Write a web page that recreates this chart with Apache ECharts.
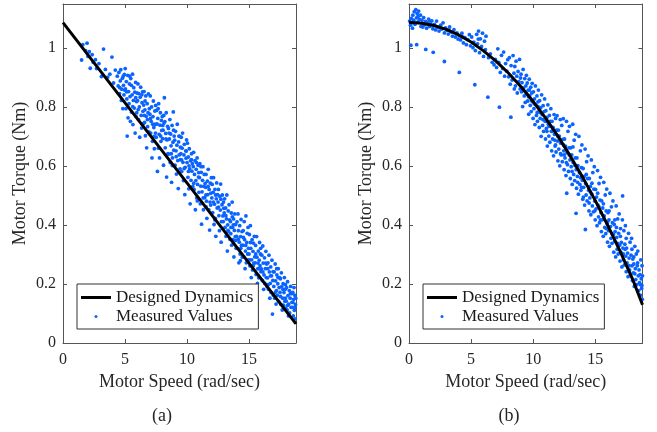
<!DOCTYPE html>
<html>
<head>
<meta charset="utf-8">
<script src="https://cdn.jsdelivr.net/npm/echarts@6/dist/echarts.min.js"></script>
<style>
  html, body { margin: 0; padding: 0; background: #fff; }
  #chart { width: 657px; height: 432px; }
</style>
</head>
<body>
<div id="chart"></div>
<script>
// axis ticks
const speedTicks = [0, 5, 10, 15]
const torqueTicks = [0, 0.2, 0.4, 0.6, 0.8, 1]
const panelLabels = ['(a)', '(b)']

// designed dynamics curves
const designedSpeedA = [0, 18.8]
const designedTorqueA = [1.087, 0.065]
const designedSpeedB = [0, 1, 2, 3, 4, 5, 6, 7, 8, 9, 10, 11, 12, 13, 14, 15, 16, 17, 18, 18.8]
const designedTorqueB = [1.088, 1.085, 1.077, 1.064, 1.045, 1.021, 0.991, 0.956, 0.916, 0.87, 0.819, 0.763, 0.701, 0.633, 0.561, 0.483, 0.399, 0.311, 0.217, 0.13]

// measured values (speed, torque), estimated from the scatter
const measuredA = [
  [1.5,0.96],[1.6,1.012],[1.82,0.992],[1.94,1.017],[2.02,0.972],[2.12,0.988],[2.2,0.932],[2.35,0.978],[2.44,0.952],[2.62,0.961],[2.71,0.931],[2.9,0.948],[3.1,0.904],[3.27,0.997],[3.42,0.928],[3.61,0.902],[3.78,0.912],[3.95,0.97],[4.08,0.882],[4.22,0.926],
  [4.38,0.905],[4.45,0.872],[4.51,0.918],[4.56,0.846],[4.62,0.889],[4.66,0.927],[4.71,0.823],[4.74,0.861],[4.79,0.898],[4.83,0.795],[4.88,0.874],[4.92,0.842],[4.95,0.911],[4.98,0.858],
  [5.02,0.931],[5.04,0.862],[5.08,0.795],[5.11,0.887],[5.15,0.828],[5.18,0.702],[5.22,0.908],[5.25,0.764],[5.29,0.853],[5.33,0.812],[5.36,0.879],[5.41,0.836],[5.44,0.752],[5.47,0.897],
  [5.52,0.874],[5.54,0.783],[5.58,0.842],[5.61,0.912],[5.64,0.741],[5.68,0.823],[5.71,0.866],[5.75,0.797],[5.79,0.851],[5.82,0.712],[5.86,0.884],[5.89,0.768],[5.93,0.819],[5.97,0.848],
  [6.02,0.822],[6.05,0.879],[6.09,0.758],[6.12,0.846],[6.16,0.801],[6.19,0.698],[6.23,0.834],[6.27,0.868],[6.31,0.772],[6.34,0.729],[6.38,0.815],[6.42,0.852],[6.45,0.786],[6.48,0.744],
  [6.51,0.807],[6.54,0.853],[6.58,0.748],[6.61,0.791],[6.65,0.703],[6.68,0.838],[6.72,0.769],[6.75,0.662],[6.79,0.812],[6.83,0.734],[6.86,0.781],[6.89,0.845],[6.93,0.716],[6.97,0.795],
  [7.01,0.776],[7.04,0.838],[7.08,0.712],[7.11,0.752],[7.15,0.801],[7.18,0.628],[7.22,0.684],[7.26,0.768],[7.29,0.821],[7.33,0.731],[7.37,0.659],[7.41,0.787],[7.44,0.742],[7.48,0.806],
  [7.52,0.698],[7.55,0.789],[7.59,0.743],[7.62,0.582],[7.65,0.762],[7.69,0.661],[7.72,0.812],[7.76,0.708],[7.79,0.628],[7.83,0.739],[7.86,0.781],[7.9,0.684],[7.94,0.755],[7.97,0.721],
  [8.01,0.768],[8.04,0.693],[8.08,0.722],[8.11,0.603],[8.15,0.746],[8.18,0.832],[8.22,0.751],[8.25,0.662],[8.29,0.711],[8.33,0.781],[8.36,0.563],[8.4,0.689],[8.44,0.735],[8.47,0.642],
  [8.51,0.728],[8.54,0.641],[8.58,0.692],[8.62,0.758],[8.65,0.612],[8.69,0.709],[8.72,0.669],[8.76,0.545],[8.8,0.738],[8.83,0.628],[8.87,0.681],[8.9,0.784],[8.94,0.654],[8.97,0.702],
  [9.01,0.688],[9.04,0.603],[9.08,0.718],[9.12,0.652],[9.15,0.573],[9.19,0.671],[9.22,0.742],[9.26,0.619],[9.3,0.524],[9.33,0.682],[9.37,0.638],[9.41,0.701],[9.44,0.591],[9.48,0.664],
  [9.51,0.642],[9.54,0.698],[9.58,0.582],[9.61,0.661],[9.65,0.712],[9.68,0.613],[9.72,0.551],[9.76,0.638],[9.79,0.674],[9.83,0.503],[9.86,0.596],[9.9,0.652],[9.93,0.627],[9.97,0.689],
  [10.01,0.612],[10.04,0.678],[10.08,0.562],[10.11,0.631],[10.15,0.523],[10.19,0.659],[10.22,0.591],[10.26,0.472],[10.29,0.618],[10.33,0.552],[10.37,0.642],[10.4,0.583],[10.44,0.608],[10.47,0.531],
  [10.51,0.598],[10.54,0.647],[10.58,0.521],[10.61,0.572],[10.65,0.619],[10.68,0.452],[10.72,0.551],[10.75,0.589],[10.79,0.492],[10.82,0.628],[10.86,0.538],[10.9,0.603],[10.93,0.563],[10.97,0.511],
  [11.01,0.561],[11.04,0.608],[11.08,0.472],[11.12,0.532],[11.15,0.579],[11.18,0.403],[11.22,0.513],[11.26,0.552],[11.29,0.598],[11.33,0.452],[11.36,0.531],[11.4,0.572],[11.44,0.493],[11.47,0.541],
  [11.51,0.528],[11.54,0.572],[11.58,0.481],[11.61,0.423],[11.65,0.549],[11.68,0.503],[11.72,0.589],[11.76,0.452],[11.79,0.521],[11.83,0.383],[11.86,0.478],[11.9,0.542],[11.93,0.508],[11.97,0.561],
  [12.01,0.492],[12.04,0.538],[12.08,0.442],[12.12,0.511],[12.15,0.561],[12.19,0.402],[12.22,0.471],[12.26,0.521],[12.29,0.423],[12.33,0.362],[12.37,0.489],[12.4,0.543],[12.44,0.458],[12.47,0.503],
  [12.51,0.478],[12.54,0.521],[12.58,0.432],[12.62,0.381],[12.65,0.498],[12.69,0.451],[12.72,0.539],[12.76,0.342],[12.79,0.412],[12.83,0.469],[12.86,0.502],[12.9,0.431],[12.94,0.388],[12.97,0.457],
  [13.01,0.441],[13.04,0.489],[13.08,0.392],[13.12,0.458],[13.15,0.362],[13.19,0.421],[13.22,0.502],[13.26,0.312],[13.29,0.401],[13.33,0.448],[13.36,0.378],[13.4,0.469],[13.44,0.418],[13.47,0.352],
  [13.51,0.412],[13.54,0.371],[13.58,0.441],[13.61,0.332],[13.65,0.478],[13.69,0.392],[13.72,0.351],[13.76,0.421],[13.79,0.292],[13.83,0.382],[13.86,0.438],[13.9,0.361],[13.93,0.402],[13.97,0.321],
  [14.01,0.362],[14.04,0.411],[14.08,0.321],[14.12,0.438],[14.15,0.381],[14.19,0.272],[14.22,0.342],[14.26,0.398],[14.29,0.302],[14.33,0.361],[14.37,0.419],[14.4,0.331],[14.44,0.378],[14.47,0.291],
  [14.51,0.332],[14.54,0.381],[14.58,0.292],[14.62,0.412],[14.65,0.351],[14.69,0.252],[14.72,0.312],[14.76,0.431],[14.79,0.272],[14.83,0.341],[14.86,0.372],[14.9,0.302],[14.93,0.392],[14.97,0.321],
  [15.01,0.302],[15.04,0.368],[15.08,0.262],[15.12,0.398],[15.15,0.321],[15.19,0.222],[15.22,0.282],[15.26,0.351],[15.29,0.248],[15.33,0.311],[15.37,0.339],[15.4,0.271],[15.44,0.362],[15.47,0.292],
  [15.51,0.272],[15.54,0.331],[15.58,0.232],[15.62,0.361],[15.65,0.291],[15.69,0.202],[15.72,0.252],[15.76,0.312],[15.79,0.221],[15.83,0.281],[15.86,0.341],[15.9,0.262],[15.93,0.302],[15.97,0.242],
  [16.01,0.251],[16.04,0.298],[16.08,0.212],[16.12,0.329],[16.15,0.271],[16.19,0.182],[16.22,0.231],[16.26,0.289],[16.29,0.202],[16.33,0.252],[16.37,0.311],[16.4,0.222],[16.44,0.268],[16.47,0.191],
  [16.51,0.221],[16.54,0.272],[16.58,0.182],[16.62,0.298],[16.65,0.241],[16.69,0.152],[16.72,0.202],[16.76,0.258],[16.79,0.171],[16.83,0.228],[16.86,0.281],[16.9,0.098],[16.93,0.212],[16.97,0.162],
  [17.01,0.192],[17.04,0.241],[17.08,0.152],[17.12,0.268],[17.15,0.211],[17.19,0.132],[17.22,0.178],[17.26,0.231],[17.29,0.162],[17.33,0.201],[17.37,0.252],[17.4,0.141],[17.44,0.188],[17.47,0.222],
  [17.51,0.172],[17.54,0.218],[17.58,0.131],[17.62,0.238],[17.65,0.191],[17.69,0.112],[17.72,0.152],[17.76,0.201],[17.79,0.128],[17.83,0.171],[17.86,0.222],[17.9,0.142],[17.93,0.182],[17.97,0.118],
  [18.01,0.142],[18.04,0.188],[18.08,0.112],[18.12,0.208],[18.15,0.161],[18.19,0.092],[18.22,0.132],[18.26,0.178],[18.29,0.102],[18.33,0.152],[18.37,0.192],[18.4,0.121],[18.44,0.168],[18.47,0.138],
  [18.51,0.121],[18.54,0.172],[18.58,0.092],[18.61,0.148],[18.64,0.188],[18.67,0.111],[18.7,0.162],[18.73,0.082],[18.76,0.131],[18.78,0.152],
  [4.58,0.866],[4.86,0.905],[5.13,0.852],[5.38,0.905],[5.63,0.802],[5.87,0.832],[6.07,0.792],[6.36,0.842],[6.57,0.772],[6.81,0.758],[7.06,0.762],[7.24,0.742],[7.46,0.712],[7.68,0.795],[7.88,0.702],
  [8.13,0.772],[8.31,0.692],[8.56,0.712],[8.74,0.642],[8.92,0.722],[9.13,0.632],[9.35,0.702],[9.57,0.621],[9.78,0.592],[9.95,0.651],[10.17,0.601],[10.36,0.622],[10.55,0.542],[10.77,0.612],[10.95,0.578],
  [11.13,0.598],[11.31,0.492],[11.53,0.502],[11.71,0.531],[11.92,0.468],[12.13,0.478],[12.31,0.502],[12.55,0.461],[12.74,0.488],[12.93,0.412],[13.14,0.432],[13.31,0.382],[13.55,0.392],[13.74,0.401],[13.94,0.348],
  [14.14,0.352],[14.35,0.321],[14.56,0.358],[14.74,0.331],[14.95,0.282],[15.13,0.341],[15.35,0.262],[15.55,0.302],[15.74,0.271],[15.95,0.321],[16.13,0.241],[16.35,0.271],[16.55,0.198],[16.74,0.228],[16.95,0.242],
  [17.13,0.172],[17.35,0.222],[17.55,0.158],[17.74,0.182],[17.95,0.198],[18.13,0.128],[18.35,0.168],[18.55,0.138],[18.72,0.121],
  [5.95,0.781],[6.62,0.821],[7.35,0.701],[8.05,0.738],[8.82,0.602],[9.46,0.622],[10.12,0.582],[10.84,0.482],[11.55,0.462],[12.25,0.418],[12.95,0.478],[13.66,0.428],[14.31,0.279],[15.05,0.282],[15.82,0.252],
  [16.52,0.252],[17.24,0.252],[17.94,0.152]
]

const measuredB = [
  [0.05,1.092],[0.12,1.078],[0.18,1.101],[0.25,1.086],[0.31,1.112],[0.38,1.095],[0.42,1.124],[0.48,1.081],[0.55,1.131],[0.61,1.103],[0.66,1.118],[0.72,1.089],[0.78,1.126],[0.85,1.098],[0.92,1.112],[0.97,1.074],
  [0.15,1.01],[0.62,1.012],[1.35,0.996],[1.95,0.986],[2.85,0.955],[4.05,0.918],[5.3,0.876],[6.35,0.834],[7.28,0.8],[8.2,0.766],
  [1.04,1.095],[1.11,1.072],[1.18,1.104],[1.26,1.083],[1.33,1.091],[1.42,1.068],[1.5,1.087],[1.58,1.099],[1.66,1.074],[1.75,1.082],[1.84,1.093],[1.92,1.066],
  [2.05,1.081],[2.14,1.062],[2.22,1.092],[2.31,1.071],[2.42,1.058],[2.55,1.078],[2.63,1.065],[2.74,1.086],[2.85,1.052],[2.94,1.069],
  [3.05,1.061],[3.16,1.048],[3.27,1.072],[3.38,1.055],[3.5,1.041],[3.62,1.063],[3.74,1.038],[3.86,1.052],[3.95,1.031],
  [4.04,1.042],[4.15,1.028],[4.26,1.051],[4.38,1.018],[4.5,1.036],[4.62,1.012],[4.74,1.029],[4.86,1.046],[4.95,1.008],
  [5.05,1.038],[5.15,1.002],[5.22,1.021],[5.34,0.992],[5.45,1.047],[5.52,1.015],[5.6,1.058],[5.68,0.985],[5.75,1.032],[5.84,1.006],[5.92,1.051],[6.0,0.972],[6.08,1.024],[6.15,0.995],[6.2,1.041],
  [6.4,0.968],[6.55,0.981],[6.7,0.952],[6.85,0.944],[6.95,0.962],
  [7.05,0.935],[7.15,0.998],[7.22,0.952],[7.35,0.918],[7.45,0.976],[7.55,0.931],[7.62,0.987],[7.7,0.905],[7.78,0.948],[7.88,0.922],[7.95,0.961],
  [8.02,0.903],[8.08,0.968],[8.15,0.878],[8.22,0.941],[8.3,0.892],[8.38,0.975],[8.45,0.915],[8.48,0.862],
  [8.52,0.938],[8.57,0.872],[8.62,0.956],[8.68,0.905],[8.72,0.848],[8.78,0.921],[8.84,0.887],[8.9,0.962],[8.95,0.862],[8.98,0.899],
  [9.02,0.912],[9.06,0.852],[9.1,0.883],[9.15,0.802],[9.19,0.928],[9.23,0.865],[9.28,0.838],[9.32,0.897],[9.36,0.816],[9.41,0.872],[9.45,0.908],[9.48,0.845],
  [9.52,0.882],[9.56,0.821],[9.6,0.858],[9.64,0.776],[9.68,0.895],[9.72,0.839],[9.76,0.806],[9.8,0.868],[9.84,0.785],[9.88,0.848],[9.92,0.881],[9.96,0.818],[9.99,0.762],
  [10.02,0.852],[10.06,0.795],[10.1,0.828],[10.14,0.741],[10.18,0.872],[10.22,0.808],[10.26,0.772],[10.3,0.838],[10.34,0.752],[10.38,0.818],[10.42,0.858],[10.46,0.785],[10.49,0.731],
  [10.52,0.822],[10.56,0.762],[10.6,0.798],[10.64,0.701],[10.68,0.842],[10.72,0.775],[10.76,0.738],[10.8,0.805],[10.84,0.718],[10.88,0.785],[10.92,0.828],[10.96,0.752],[10.99,0.692],
  [11.02,0.788],[11.06,0.728],[11.1,0.765],[11.14,0.668],[11.18,0.808],[11.22,0.742],[11.26,0.702],[11.3,0.772],[11.34,0.681],[11.38,0.752],[11.42,0.795],[11.46,0.718],[11.49,0.652],
  [11.52,0.752],[11.56,0.692],[11.6,0.731],[11.64,0.635],[11.68,0.775],[11.72,0.708],[11.76,0.668],[11.8,0.762],[11.84,0.648],[11.88,0.722],[11.92,0.771],[11.96,0.685],[11.99,0.618],
  [12.02,0.722],[12.06,0.658],[12.1,0.702],[12.14,0.601],[12.18,0.758],[12.22,0.678],[12.26,0.638],[12.3,0.738],[12.34,0.615],[12.38,0.691],[12.42,0.761],[12.46,0.652],[12.49,0.588],
  [12.52,0.692],[12.56,0.628],[12.6,0.668],[12.64,0.568],[12.68,0.752],[12.7,0.508],[12.72,0.645],[12.76,0.605],[12.8,0.718],[12.84,0.582],[12.88,0.662],[12.92,0.735],[12.96,0.621],[12.99,0.558],
  [13.02,0.662],[13.06,0.598],[13.1,0.638],[13.14,0.538],[13.18,0.742],[13.22,0.612],[13.26,0.572],[13.3,0.688],[13.34,0.551],[13.38,0.628],[13.42,0.708],[13.45,0.44],[13.46,0.588],[13.49,0.525],
  [13.52,0.628],[13.56,0.565],[13.6,0.602],[13.64,0.505],[13.68,0.701],[13.72,0.578],[13.76,0.538],[13.8,0.652],[13.84,0.518],[13.88,0.595],[13.92,0.672],[13.96,0.552],[13.99,0.488],
  [14.02,0.592],[14.06,0.528],[14.1,0.565],[14.14,0.468],[14.18,0.658],[14.2,0.385],[14.22,0.541],[14.26,0.502],[14.3,0.615],[14.34,0.482],[14.38,0.558],[14.42,0.635],[14.46,0.518],[14.49,0.448],
  [14.52,0.558],[14.56,0.492],[14.6,0.531],[14.64,0.435],[14.68,0.621],[14.72,0.505],[14.76,0.465],[14.8,0.578],[14.84,0.445],[14.88,0.522],[14.92,0.598],[14.96,0.481],[14.99,0.418],
  [15.02,0.521],[15.06,0.455],[15.1,0.495],[15.14,0.398],[15.18,0.585],[15.22,0.468],[15.26,0.428],[15.3,0.541],[15.34,0.408],[15.38,0.485],[15.42,0.562],[15.46,0.442],[15.49,0.378],
  [15.52,0.482],[15.56,0.418],[15.6,0.458],[15.64,0.362],[15.68,0.545],[15.72,0.431],[15.76,0.392],[15.8,0.502],[15.84,0.371],[15.88,0.448],[15.92,0.522],[15.96,0.405],[15.99,0.342],
  [16.02,0.442],[16.06,0.381],[16.1,0.418],[16.14,0.328],[16.18,0.508],[16.22,0.395],[16.26,0.355],[16.3,0.462],[16.34,0.338],[16.38,0.408],[16.42,0.482],[16.46,0.368],[16.49,0.308],
  [16.52,0.402],[16.56,0.345],[16.6,0.378],[16.64,0.292],[16.68,0.465],[16.72,0.358],[16.76,0.318],[16.8,0.421],[16.84,0.302],[16.88,0.372],[16.92,0.438],[16.96,0.332],[16.99,0.278],
  [17.02,0.362],[17.06,0.308],[17.1,0.341],[17.14,0.258],[17.18,0.418],[17.2,0.499],[17.22,0.322],[17.26,0.282],[17.3,0.381],[17.34,0.265],[17.38,0.335],[17.42,0.398],[17.46,0.295],[17.49,0.242],
  [17.52,0.322],[17.56,0.272],[17.6,0.305],[17.64,0.225],[17.68,0.372],[17.72,0.288],[17.76,0.248],[17.8,0.342],[17.84,0.232],[17.88,0.298],[17.92,0.355],[17.96,0.262],[17.99,0.212],
  [18.02,0.285],[18.06,0.238],[18.1,0.268],[18.14,0.192],[18.18,0.328],[18.22,0.252],[18.26,0.215],[18.3,0.302],[18.34,0.198],[18.38,0.262],[18.42,0.312],[18.46,0.228],[18.49,0.178],
  [18.52,0.248],[18.56,0.205],[18.6,0.232],[18.63,0.162],[18.66,0.282],[18.7,0.218],[18.73,0.185],[18.76,0.262],[18.78,0.148],[18.8,0.228],
  [0.28,1.068],[0.72,1.108],[1.22,1.079],[1.71,1.092],[2.48,1.071],[3.22,1.061],[4.32,1.038],[5.58,1.031],
  [9.13,0.862],[9.38,0.852],[9.62,0.835],[9.85,0.822],[10.08,0.812],[10.32,0.782],[10.55,0.782],[10.78,0.758],[11.04,0.752],[11.28,0.735],[11.52,0.718],[11.74,0.688],[11.97,0.702],[12.2,0.642],[12.44,0.672],
  [12.67,0.612],[12.9,0.638],[13.13,0.582],[13.36,0.602],[13.58,0.545],[13.82,0.561],[14.04,0.495],[14.27,0.572],[14.5,0.475],[14.73,0.542],[14.96,0.448],[15.19,0.508],[15.42,0.418],[15.65,0.472],[15.88,0.388],
  [16.11,0.448],[16.34,0.372],[16.57,0.418],[16.8,0.338],[17.03,0.388],[17.26,0.302],[17.49,0.355],[17.72,0.262],[17.95,0.318],[18.18,0.235],[18.41,0.272],[18.64,0.198],
  [9.7,0.858],[10.4,0.802],[11.1,0.718],[11.8,0.672],[12.5,0.638],[13.2,0.665],[13.9,0.528],[14.6,0.512],[15.3,0.462],[16.0,0.412],[16.7,0.392],[17.4,0.318],[18.1,0.292],[18.75,0.195]
]

const serif = '"Liberation Serif", "Times New Roman", serif'
const textColor = '#262626'
const lineColor = '#555'
const dotColor = '#0b63ff'

const chart = echarts.init(document.getElementById('chart'))

const gridBoxes = [
  { left: 63, top: 4, width: 233, height: 339 },
  { left: 409, top: 4, width: 233.5, height: 339 }
]

const xAxes = []
const yAxes = []
gridBoxes.forEach((g, i) => {
  // bottom + top speed axis
  xAxes.push({
    gridIndex: i, type: 'value', min: 0, max: 18.8, position: 'bottom',
    name: 'Motor Speed (rad/sec)', nameLocation: 'middle', nameGap: 30,
    nameTextStyle: { fontFamily: serif, fontSize: 18, color: textColor },
    axisLine: { onZero: false, lineStyle: { color: lineColor, width: 1 } },
    axisTick: { inside: true, length: 4, customValues: speedTicks, lineStyle: { color: lineColor } },
    axisLabel: { customValues: speedTicks, margin: 9, fontFamily: serif, fontSize: 16, color: textColor },
    splitLine: { show: false }
  })
  xAxes.push({
    gridIndex: i, type: 'value', min: 0, max: 18.8, position: 'top',
    axisLine: { onZero: false, lineStyle: { color: lineColor, width: 1 } },
    axisTick: { inside: true, length: 4, customValues: speedTicks, lineStyle: { color: lineColor } },
    axisLabel: { show: false },
    splitLine: { show: false }
  })
  // left + right torque axis
  yAxes.push({
    gridIndex: i, type: 'value', min: 0, max: 1.15, position: 'left',
    name: 'Motor Torque (Nm)', nameLocation: 'middle', nameGap: 34,
    nameTextStyle: { fontFamily: serif, fontSize: 18, color: textColor },
    axisLine: { show: true, onZero: false, lineStyle: { color: lineColor, width: 1 } },
    axisTick: { show: true, inside: true, length: 4, customValues: torqueTicks, lineStyle: { color: lineColor } },
    axisLabel: { customValues: torqueTicks, margin: 7, fontFamily: serif, fontSize: 16, color: textColor },
    splitLine: { show: false }
  })
  yAxes.push({
    gridIndex: i, type: 'value', min: 0, max: 1.15, position: 'right',
    axisLine: { show: true, onZero: false, lineStyle: { color: lineColor, width: 1 } },
    axisTick: { show: true, inside: true, length: 4, customValues: torqueTicks, lineStyle: { color: lineColor } },
    axisLabel: { show: false },
    splitLine: { show: false }
  })
})

const zip = (xs, ys) => xs.map((x, k) => [x, ys[k]])
const panels = [
  { measured: measuredA, designed: zip(designedSpeedA, designedTorqueA) },
  { measured: measuredB, designed: zip(designedSpeedB, designedTorqueB) }
]

const series = []
panels.forEach((p, i) => {
  series.push({
    name: 'Measured Values', type: 'scatter',
    xAxisIndex: i * 2, yAxisIndex: i * 2,
    data: p.measured, symbol: 'circle', symbolSize: 3.8,
    itemStyle: { color: dotColor, opacity: 1 },
    z: 2
  })
  series.push({
    name: 'Designed Dynamics', type: 'line',
    xAxisIndex: i * 2, yAxisIndex: i * 2,
    data: p.designed, symbol: 'none', smooth: false,
    lineStyle: { color: '#000', width: 3 },
    itemStyle: { color: '#000' },
    z: 3
  })
})

const option = {
  animation: false,
  backgroundColor: '#fff',
  grid: gridBoxes.map(g => ({ ...g, containLabel: false, outerBoundsMode: 'none' })),
  xAxis: xAxes,
  yAxis: yAxes,
  title: panelLabels.map((t, i) => ({
    text: t,
    left: i ? 509 : 162,
    top: 407,
    textAlign: 'center',
    padding: 0,
    textStyle: { fontFamily: serif, fontSize: 18, fontWeight: 'normal', color: textColor }
  })),
  legend: [77, 423].map(x => ({
    left: x, top: 284,
    orient: 'vertical',
    selectedMode: false,
    itemWidth: 30, itemHeight: 3, itemGap: 2,
    padding: [5, 5, 4, 4],
    borderColor: '#333', borderWidth: 1, borderRadius: 0,
    backgroundColor: '#fff',
    textStyle: { fontFamily: serif, fontSize: 17, color: '#1a1a1a' },
    data: [
      { name: 'Designed Dynamics', icon: 'rect', itemStyle: { color: '#000' } },
      { name: 'Measured Values', icon: 'circle' }
    ],
    z: 10
  })),
  series: series
}

chart.setOption(option)
</script>
</body>
</html>
